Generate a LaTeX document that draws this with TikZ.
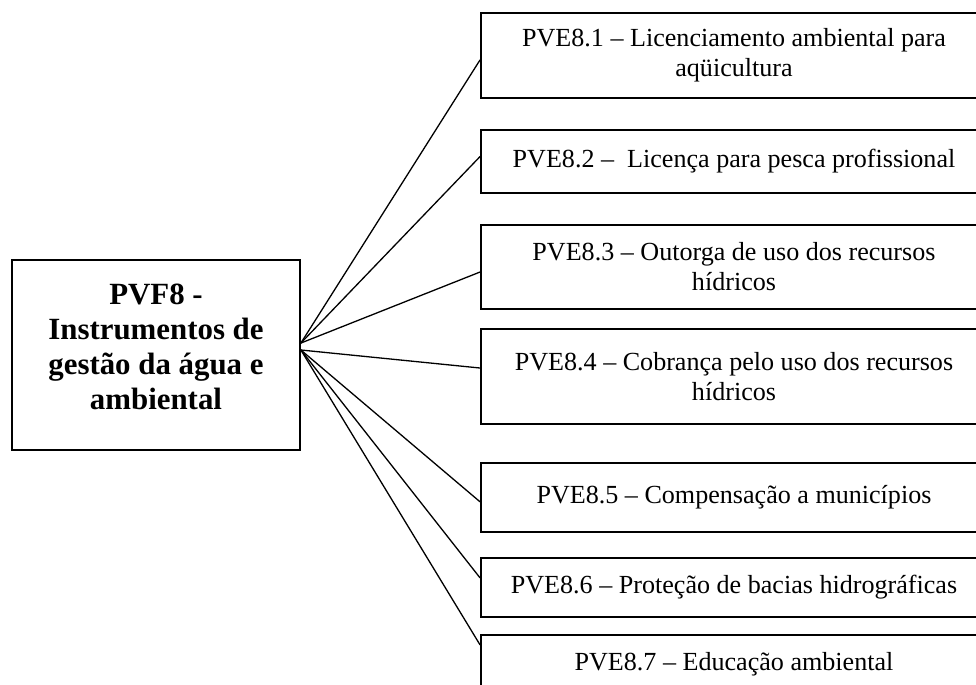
\documentclass[tikz,border=0pt]{standalone}
\usepackage{fontspec}
\setmainfont{Liberation Serif}
\usepackage{tikz}
\usetikzlibrary{positioning}

\begin{document}
\begin{tikzpicture}[
    x=0.46pt, y=-0.46pt,
    pvfbox/.style={rectangle, draw, line width=0.8pt, minimum width=132.5pt, minimum height=87.4pt, align=center, font=\bfseries\fontsize{14.2}{16.1}\selectfont},
    pvebox/.style={rectangle, draw, line width=0.8pt, minimum width=232.8pt, align=center, inner sep=2pt, font=\fontsize{12}{13.8}\selectfont},
    link/.style={line width=0.6pt}
]
    \useasboundingbox (0,0) rectangle (976,684);
    \clip (0,0) rectangle (976,684);

    % Left: main instrument
    \node[pvfbox] (pvf) at (156,355) {PVF8 -\\Instrumentos de\\gestão da água e\\ambiental\rule[-7.4pt]{0pt}{0pt}};

    % Right: sub-items
    \node[pvebox, minimum height=39.1pt] (pve1) at (734,55.5) {PVE8.1 – Licenciamento ambiental para\\aqüicultura};
    \node[pvebox, minimum height=29pt]   (pve2) at (734,161.5) {PVE8.2 –\ \ Licença para pesca profissional};
    \node[pvebox, minimum height=38.6pt] (pve3) at (734,267) {PVE8.3 – Outorga de uso dos recursos\\hídricos};
    \node[pvebox, minimum height=43.7pt] (pve4) at (734,376.5) {PVE8.4 – Cobrança pelo uso dos recursos\\hídricos};
    \node[pvebox, minimum height=31.7pt] (pve5) at (734,497.5) {PVE8.5 – Compensação a municípios};
    \node[pvebox, minimum height=27.1pt] (pve6) at (734,587.5) {PVE8.6 – Proteção de bacias hidrográficas};
    \node[pvebox, minimum height=27.1pt] (pve7) at (734,664.5) {PVE8.7 – Educação ambiental};

    % Hub points on the right side of the main box
    \coordinate (hubup) at ([yshift=5.5pt]pvf.east);
    \coordinate (hubdn) at ([yshift=2.3pt]pvf.east);

    % Links
    \draw[link] (hubup) -- ([yshift=-2pt]pve1.west);
    \draw[link] (hubup) -- ([yshift=2.3pt]pve2.west);
    \draw[link] (hubup) -- ([yshift=-2.3pt]pve3.west);
    \draw[link] (hubdn) -- ([yshift=3.9pt]pve4.west);
    \draw[link] (hubdn) -- ([yshift=-2pt]pve5.west);
    \draw[link] (hubdn) -- ([yshift=4.4pt]pve6.west);
    \draw[link] (hubdn) -- ([yshift=9pt]pve7.west);
\end{tikzpicture}
\end{document}
